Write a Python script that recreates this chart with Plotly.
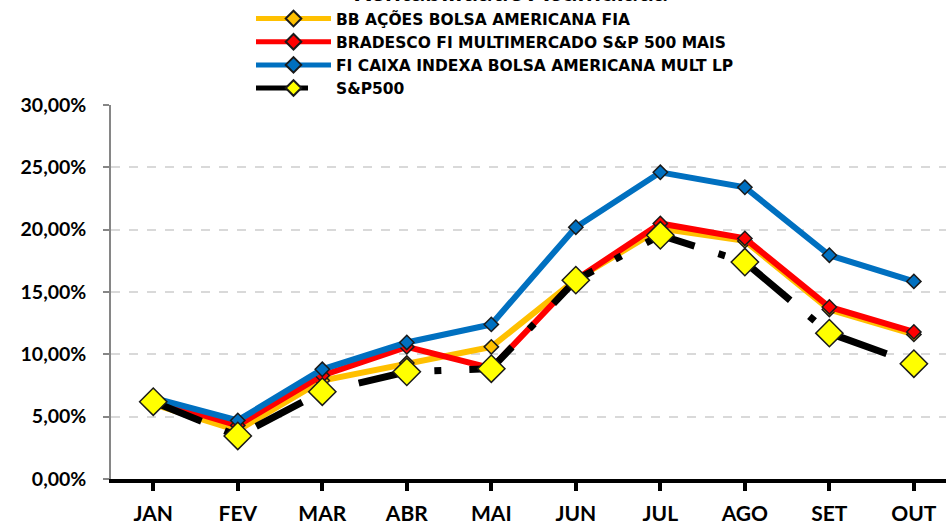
import plotly.graph_objects as go

months = ["JAN", "FEV", "MAR", "ABR", "MAI", "JUN", "JUL", "AGO", "SET", "OUT"]
bb_acoes = [6.0, 3.9, 7.9, 9.3, 10.6, 16.0, 20.1, 19.1, 13.6, 11.6]
bradesco = [6.3, 4.3, 8.3, 10.6, 8.9, 16.0, 20.5, 19.3, 13.8, 11.8]
caixa = [6.5, 4.7, 8.8, 10.95, 12.4, 20.2, 24.6, 23.4, 17.95, 15.85]
sp500 = [6.2, 3.45, 7.0, 8.6, 8.85, 15.95, 19.55, 17.4, 11.7, 9.25]
y_ticks = [0, 5, 10, 15, 20, 25, 30]
y_tick_labels = ["0,00%", "5,00%", "10,00%", "15,00%", "20,00%", "25,00%", "30,00%"]

FONT = "Lato"
LEGEND_FONT = "DejaVu Sans"

fig = go.Figure()

series = [
    ("BB AÇÕES BOLSA AMERICANA FIA", bb_acoes, "#FFC000"),
    ("BRADESCO FI MULTIMERCADO S&P 500 MAIS", bradesco, "#FF0000"),
    ("FI CAIXA INDEXA BOLSA AMERICANA MULT LP", caixa, "#0070C0"),
]
for name, vals, col in series:
    fig.add_trace(go.Scatter(
        x=list(range(len(months))), y=vals, name=name, mode="lines+markers",
        line=dict(color=col, width=6),
        marker=dict(symbol="diamond", size=11, color=col,
                    line=dict(color="#1a1a1a", width=1.5)),
    ))

fig.add_trace(go.Scatter(
    x=list(range(len(months))), y=sp500, name="S&P500", mode="lines+markers",
    line=dict(color="black", width=7, dash="52px,25px,7px,28px"),
    marker=dict(symbol="diamond", size=21, color="#FFFF00",
                line=dict(color="#1a1a1a", width=1.5)),
))

fig.add_annotation(
    text="<b>Rentabilidade Acumulada</b>", xref="paper", yref="paper",
    x=(510 - 111) / 835, y=(479 - 9) / 374, xanchor="center", yanchor="bottom",
    showarrow=False, font=dict(family=FONT, size=28, color="black"),
)

fig.update_layout(
    width=946, height=527,
    margin=dict(l=111, r=0, t=105, b=48, pad=0, autoexpand=False),
    paper_bgcolor="white", plot_bgcolor="white",
    font=dict(family=FONT, color="black"),
    showlegend=True,
    legend=dict(
        xref="paper", yref="paper",
        x=(251 - 111) / 835, y=(479 - 2) / 374, xanchor="left", yanchor="top",
        bgcolor="rgba(0,0,0,0)", itemwidth=75, itemsizing="constant",
        font=dict(family=LEGEND_FONT, size=15.5, color="black", weight="bold"),
        tracegroupgap=0,
    ),
    xaxis=dict(
        range=[-0.5, 9.38], tickmode="array",
        tickvals=list(range(len(months))), ticktext=months,
        tickson="boundaries", ticks="outside", ticklen=8, tickwidth=4,
        tickcolor="black", showline=True, linecolor="black", linewidth=4,
        showgrid=False, zeroline=False, ticklabelstandoff=5,
        tickfont=dict(family=FONT, size=21, color="black", weight="bold"),
        automargin=False,
    ),
    yaxis=dict(
        range=[0, 30], tickmode="array", tickvals=y_ticks, ticktext=y_tick_labels,
        ticks="outside", ticklen=6, tickwidth=1.5, tickcolor="#868686",
        showline=True, linecolor="#868686", linewidth=1.5,
        showgrid=True, gridcolor="#D9D9D9", gridwidth=2, griddash="dash",
        zeroline=False, ticklabelstandoff=13,
        tickfont=dict(family=FONT, size=19.5, color="black", weight="bold"),
        automargin=False,
    ),
)

fig.write_html("out.html", config={"displayModeBar": False},
               post_script="document.body.style.margin='0';")
